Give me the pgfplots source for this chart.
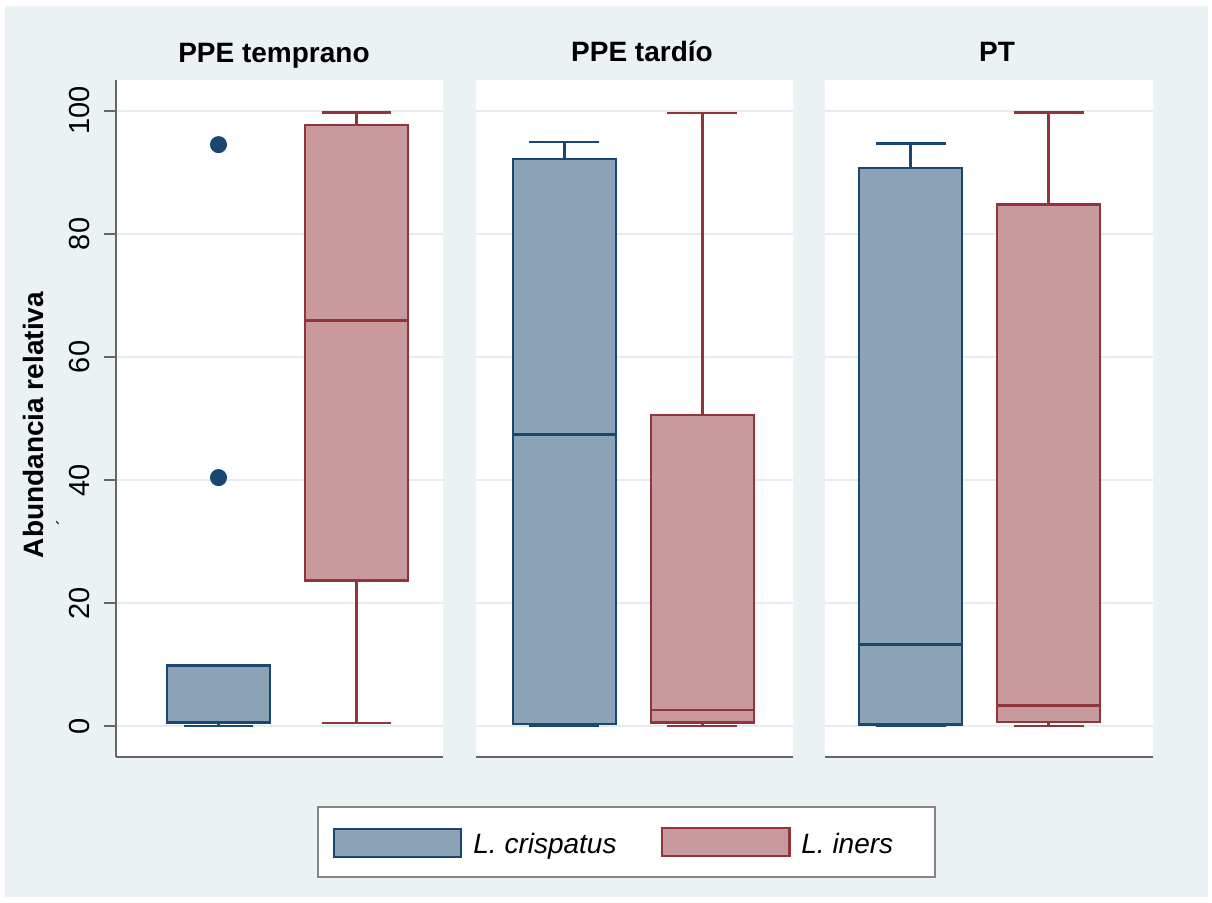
\documentclass[border=0pt]{standalone}
\usepackage{pgfplots}
\pgfplotsset{compat=1.18}
\usepgfplotslibrary{statistics}
\usepackage{fontspec}
\setmainfont{Liberation Sans}
\definecolor{bgc}{HTML}{EAF2F3}
\definecolor{gridc}{HTML}{E3ECEE}
\definecolor{axc}{HTML}{666666}
\definecolor{navy}{HTML}{1A476F}
\definecolor{navyf}{HTML}{8CA3B7}
\definecolor{maroon}{HTML}{90353B}
\definecolor{maroonf}{HTML}{C89A9D}
\begin{document}
\begin{tikzpicture}
\useasboundingbox (0,0) rectangle (606pt,-451pt);
\fill[bgc] (2.5pt,-3pt) rectangle (604pt,-448.5pt);
\pgfplotsset{
  panel/.style={
    scale only axis, height=338.5pt, anchor=north west,
    ymin=-5, ymax=105, ytick={0,20,40,60,80,100},
    ymajorgrids, grid style={gridc, line width=0.9pt},
    xtick=\empty,
    axis background/.style={fill=white},
    axis x line*=bottom, axis y line*=left,
    axis line style={-, axc, line width=1.1pt},
    boxplot/draw direction=y,
    boxplot/box extend=0.746, boxplot/whisker extend=0.507,
    clip=false,
    /pgf/number format/assume math mode=true,
  },
  bluebox/.style={draw=navy, fill=navyf, line width=1.2pt, solid,
    mark=*, mark size=4pt, mark options={fill=navy, draw=navy, line width=0.5pt}},
  redbox/.style={draw=maroon, fill=maroonf, line width=1.2pt, solid},
}
% Panel 1
\begin{axis}[panel, at={(58pt,-40pt)}, width=163.5pt, xmin=0.257, xmax=2.627,
  tick align=outside, major tick length=6pt, tick style={axc, line width=0.8pt},
  yticklabel shift=7pt,
  yticklabel style={rotate=90, anchor=south, inner sep=0pt, font=\fontsize{14.5}{16}\selectfont, text=black}]
\addplot[bluebox, boxplot prepared={lower whisker=0, lower quartile=0.6, median=0.6,
  upper quartile=9.9, upper whisker=9.9, draw position=1}]
  coordinates {(1,94.5) (1,40.4)};
\addplot[redbox, boxplot prepared={lower whisker=0.5, lower quartile=23.7, median=65.9,
  upper quartile=97.7, upper whisker=99.7, draw position=2}]
  coordinates {};
\end{axis}
% Panel 2
\begin{axis}[panel, at={(238pt,-40pt)}, width=158.5pt, xmin=0.359, xmax=2.656,
  yticklabels={}, major tick length=0pt, y axis line style={draw=none}]
\addplot[bluebox, boxplot prepared={lower whisker=0, lower quartile=0.4, median=47.4,
  upper quartile=92.2, upper whisker=94.9, draw position=1}]
  coordinates {};
\addplot[redbox, boxplot prepared={lower whisker=0, lower quartile=0.6, median=2.6,
  upper quartile=50.6, upper whisker=99.6, draw position=2}]
  coordinates {};
\end{axis}
% Panel 3
\begin{axis}[panel, at={(412.5pt,-40pt)}, width=164pt, xmin=0.380, xmax=2.757,
  yticklabels={}, major tick length=0pt, y axis line style={draw=none}]
\addplot[bluebox, boxplot prepared={lower whisker=0, lower quartile=0.3, median=13.3,
  upper quartile=90.7, upper whisker=94.7, draw position=1}]
  coordinates {};
\addplot[redbox, boxplot prepared={lower whisker=0, lower quartile=0.7, median=3.4,
  upper quartile=84.8, upper whisker=99.7, draw position=2}]
  coordinates {};
\end{axis}
% titles
\node[anchor=base, font=\bfseries\fontsize{14}{16}\selectfont] at (137pt,-31pt) {PPE temprano};
\node[anchor=base, font=\bfseries\fontsize{14}{16}\selectfont] at (321pt,-30.5pt) {PPE tardío};
\node[anchor=base, font=\bfseries\fontsize{14}{16}\selectfont] at (498.5pt,-30.5pt) {PT};
% y label
\node[rotate=90, anchor=base, font=\bfseries\fontsize{14}{16}\selectfont] at (21.5pt,-212.5pt) {Abundancia relativa};
\node[rotate=90, font=\fontsize{9}{9}\selectfont] at (31.5pt,-261pt) {´};
% legend
\draw[fill=white, draw=axc!80, line width=0.8pt] (159pt,-403.5pt) rectangle (467.5pt,-438.5pt);
\draw[fill=navyf, draw=navy, line width=1.2pt] (167pt,-414.5pt) rectangle (230.5pt,-428.5pt);
\node[anchor=base west, inner sep=0pt, font=\itshape\fontsize{14}{16}\selectfont] at (236.5pt,-426.5pt) {L. crispatus};
\draw[fill=maroonf, draw=maroon, line width=1.2pt] (331pt,-414pt) rectangle (394.75pt,-428pt);
\node[anchor=base west, inner sep=0pt, font=\itshape\fontsize{14}{16}\selectfont] at (400.5pt,-426.5pt) {L. iners};
\end{tikzpicture}
\end{document}
